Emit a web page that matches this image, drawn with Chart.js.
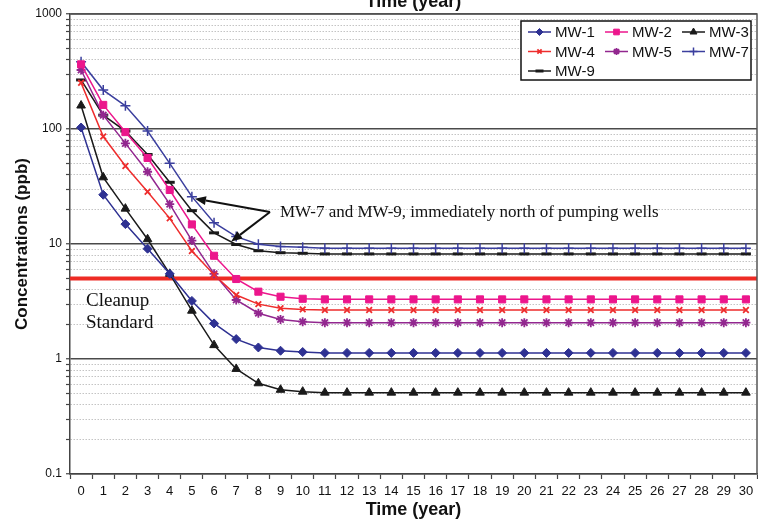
<!DOCTYPE html>
<html>
<head>
<meta charset="utf-8">
<script src="https://cdn.jsdelivr.net/npm/chart.js@4/dist/chart.umd.min.js"></script>
<style>
  body { margin: 0; background: #fff; }
  canvas { display: block; }
</style>
</head>
<body>
<canvas id="chart" width="758" height="529"></canvas>
<script>
// years on the x axis
const years = ['0','1','2','3','4','5','6','7','8','9','10','11','12','13','14','15',
  '16','17','18','19','20','21','22','23','24','25','26','27','28','29','30'];

// concentrations (ppb)
const mw1 = [103, 26.8, 14.9, 9.1, 5.5, 3.2, 2.04, 1.49, 1.26, 1.18, 1.15,
  1.13, 1.13, 1.13, 1.13, 1.13, 1.13, 1.13, 1.13, 1.13, 1.13,
  1.13, 1.13, 1.13, 1.13, 1.13, 1.13, 1.13, 1.13, 1.13, 1.13];
const mw2 = [365, 162, 94, 56, 29.5, 14.8, 7.9, 4.96, 3.85, 3.48, 3.34,
  3.3, 3.3, 3.3, 3.3, 3.3, 3.3, 3.3, 3.3, 3.3, 3.3,
  3.3, 3.3, 3.3, 3.3, 3.3, 3.3, 3.3, 3.3, 3.3, 3.3];
const mw3 = [160, 38, 20.3, 11, 5.5, 2.63, 1.32, 0.82, 0.615, 0.54, 0.52,
  0.51, 0.51, 0.51, 0.51, 0.51, 0.51, 0.51, 0.51, 0.51, 0.51,
  0.51, 0.51, 0.51, 0.51, 0.51, 0.51, 0.51, 0.51, 0.51, 0.51];
const mw4 = [252, 86, 47.7, 28.5, 16.7, 8.7, 5.4, 3.6, 3.0, 2.76, 2.7,
  2.67, 2.67, 2.67, 2.67, 2.67, 2.67, 2.67, 2.67, 2.67, 2.67,
  2.67, 2.67, 2.67, 2.67, 2.67, 2.67, 2.67, 2.67, 2.67, 2.67];
const mw5 = [326, 132, 75, 42.5, 22.2, 10.7, 5.5, 3.26, 2.5, 2.21, 2.11,
  2.07, 2.07, 2.07, 2.07, 2.07, 2.07, 2.07, 2.07, 2.07, 2.07,
  2.07, 2.07, 2.07, 2.07, 2.07, 2.07, 2.07, 2.07, 2.07, 2.07];
const mw7 = [385, 218, 159, 96, 50.3, 25.8, 15.3, 11.6, 9.94, 9.5, 9.36,
  9.2, 9.2, 9.2, 9.2, 9.2, 9.2, 9.2, 9.2, 9.2, 9.2,
  9.2, 9.2, 9.2, 9.2, 9.2, 9.2, 9.2, 9.2, 9.2, 9.2];
const mw9 = [267, 132, 96, 60, 34.4, 19.5, 12.5, 9.9, 8.74, 8.4, 8.3,
  8.2, 8.2, 8.2, 8.2, 8.2, 8.2, 8.2, 8.2, 8.2, 8.2,
  8.2, 8.2, 8.2, 8.2, 8.2, 8.2, 8.2, 8.2, 8.2, 8.2];

const cleanupStandard = 5;
const yMajorTicks = [0.1, 1, 10, 100, 1000];

// log grid: 1..9 in every decade
const yTicks = [];
for (let d = 0; d < yMajorTicks.length; d++) {
  for (let k = 1; k <= 9; k++) {
    const v = +(yMajorTicks[d] * k).toPrecision(3);
    if (v <= 1000) yTicks.push(v);
  }
}

const isMajor = v => yMajorTicks.some(m => Math.abs(m - v) < m * 1e-6);

function series(label, data, color, style, radius, bw) {
  return {
    label: label, data: data,
    borderColor: color, backgroundColor: color,
    pointBackgroundColor: color, pointBorderColor: color,
    borderWidth: 1.5, pointStyle: style, pointRadius: radius,
    pointBorderWidth: bw, tension: 0
  };
}

const overlay = {
  id: 'overlay',
  beforeDatasetsDraw(chart) {
    const { ctx, chartArea: a, scales: { y } } = chart;
    const py = y.getPixelForValue(cleanupStandard);
    ctx.save();
    ctx.strokeStyle = '#ee2b24';
    ctx.lineWidth = 4;
    ctx.beginPath();
    ctx.moveTo(a.left, py);
    ctx.lineTo(a.right, py);
    ctx.stroke();
    ctx.restore();
  },
  afterDatasetsDraw(chart) {
    const { ctx, chartArea: a, scales: { y } } = chart;
    ctx.save();
    // cleanup standard label
    const py = y.getPixelForValue(cleanupStandard);
    ctx.fillStyle = '#111';
    ctx.font = '19px "Liberation Serif", serif';
    ctx.textAlign = 'left';
    ctx.textBaseline = 'alphabetic';
    ctx.fillText('Cleanup', a.left + 16, py + 27);
    ctx.fillText('Standard', a.left + 16, py + 49);

    // arrows to MW-7 (year 5) and MW-9 (year 7)
    const p7 = chart.getDatasetMeta(5).data[5];
    const p9 = chart.getDatasetMeta(6).data[7];
    const sx = 270, sy = 212;
    const tips = [[p7.x + 3, p7.y + 2], [p9.x - 5, p9.y - 3]];
    ctx.strokeStyle = '#111';
    ctx.fillStyle = '#111';
    ctx.lineWidth = 2;
    tips.forEach(([tx, ty]) => {
      const ang = Math.atan2(ty - sy, tx - sx);
      const hl = 11, hw = 4.5;
      const bx = tx - hl * Math.cos(ang), by = ty - hl * Math.sin(ang);
      ctx.beginPath();
      ctx.moveTo(sx, sy);
      ctx.lineTo(bx, by);
      ctx.stroke();
      ctx.beginPath();
      ctx.moveTo(tx, ty);
      ctx.lineTo(bx + hw * Math.sin(ang), by - hw * Math.cos(ang));
      ctx.lineTo(bx - hw * Math.sin(ang), by + hw * Math.cos(ang));
      ctx.closePath();
      ctx.fill();
    });
    ctx.font = '17px "Liberation Serif", serif';
    ctx.fillText('MW-7 and MW-9, immediately north of pumping wells', 280, 217);
    ctx.restore();
  },
  afterDraw(chart) {
    const { ctx, chartArea: a } = chart;
    ctx.save();
    // frame (top and right)
    ctx.strokeStyle = '#555';
    ctx.lineWidth = 1.5;
    ctx.beginPath();
    ctx.moveTo(a.left, a.top);
    ctx.lineTo(a.right, a.top);
    ctx.lineTo(a.right, a.bottom);
    ctx.stroke();

    // clipped title at the very top
    ctx.fillStyle = '#111';
    ctx.font = 'bold 18px "Liberation Sans", Arial, sans-serif';
    ctx.textAlign = 'center';
    ctx.fillText('Time (year)', (a.left + a.right) / 2, 7);

    // legend box
    const lx = 521, ly = 21, lw = 230, lh = 59;
    ctx.fillStyle = '#fff';
    ctx.fillRect(lx, ly, lw, lh);
    ctx.strokeStyle = '#111';
    ctx.lineWidth = 1.5;
    ctx.strokeRect(lx, ly, lw, lh);
    ctx.font = '15px "Liberation Sans", Arial, sans-serif';
    ctx.textAlign = 'left';
    ctx.textBaseline = 'middle';
    chart.data.datasets.forEach((ds, i) => {
      const col = i % 3, row = Math.floor(i / 3);
      const x0 = lx + 7 + col * 77, yy = ly + 11 + row * 19.5;
      ctx.strokeStyle = ds.borderColor;
      ctx.fillStyle = ds.borderColor;
      ctx.lineWidth = 1.5;
      ctx.beginPath();
      ctx.moveTo(x0, yy);
      ctx.lineTo(x0 + 23, yy);
      ctx.stroke();
      ctx.lineWidth = ds.pointBorderWidth;
      Chart.helpers.drawPoint(ctx, {
        pointStyle: ds.pointStyle, radius: Math.max(3, ds.pointRadius - 1),
        borderWidth: ds.pointBorderWidth, rotation: 0
      }, x0 + 11.5, yy);
      ctx.fillStyle = '#111';
      ctx.fillText(ds.label, x0 + 27, yy + 1);
    });
    ctx.restore();
  }
};

new Chart(document.getElementById('chart'), {
  type: 'line',
  data: {
    labels: years,
    datasets: [
      series('MW-1', mw1, '#2e3192', 'rectRot', 4.5, 1),
      series('MW-2', mw2, '#ec168c', 'rect', 5, 1),
      series('MW-3', mw3, '#1a1a1a', 'triangle', 5, 1),
      series('MW-4', mw4, '#ee2d2d', 'crossRot', 4, 1.8),
      series('MW-5', mw5, '#92278f', 'star', 4.5, 1.8),
      series('MW-7', mw7, '#3b3f9e', 'cross', 5, 1.5),
      series('MW-9', mw9, '#1a1a1a', 'line', 5, 3)
    ]
  },
  options: {
    responsive: false,
    animation: false,
    layout: { autoPadding: false, padding: { top: 14, right: 1, left: 0, bottom: 0 } },
    plugins: {
      legend: { display: false },
      tooltip: { enabled: false }
    },
    scales: {
      x: {
        type: 'category',
        offset: true,
        afterFit: s => { s.height = 55; s.paddingLeft = 0; s.paddingRight = 0; },
        grid: { offset: true, drawOnChartArea: false, tickLength: 5, tickColor: '#444', tickWidth: 1.2 },
        border: { color: '#444', width: 1.5 },
        ticks: {
          autoSkip: false, maxRotation: 0, padding: 5, color: '#111',
          font: { family: '"Liberation Sans", Arial, sans-serif', size: 13 }
        },
        title: {
          display: true, text: 'Time (year)', color: '#111',
          font: { family: '"Liberation Sans", Arial, sans-serif', size: 18, weight: 'bold' },
          padding: { top: 0, bottom: 8 }
        }
      },
      y: {
        type: 'logarithmic',
        min: 0.1,
        max: 1000,
        afterFit: s => { s.width = 70; s.paddingTop = 0; s.paddingBottom = 0; },
        afterBuildTicks: s => { s.ticks = yTicks.map(v => ({ value: v })); },
        grid: {
          color: c => isMajor(c.tick.value) ? '#4a4a4a' : '#c4c4c4',
          lineWidth: c => isMajor(c.tick.value) ? 1.5 : 1,
          tickLength: 4, tickColor: '#444', tickWidth: 1.2, tickBorderDash: []
        },
        border: {
          color: '#444', width: 1.5,
          dash: c => (c.tick && isMajor(c.tick.value)) ? [] : [1.5, 1.5]
        },
        ticks: {
          autoSkip: false, padding: 4, color: '#111',
          font: { family: '"Liberation Sans", Arial, sans-serif', size: 12 },
          callback: v => isMajor(v) ? String(v) : ''
        },
        title: {
          display: true, text: 'Concentrations (ppb)', color: '#111',
          font: { family: '"Liberation Sans", Arial, sans-serif', size: 17, weight: 'bold' },
          padding: { top: 12, bottom: 0 }
        }
      }
    }
  },
  plugins: [overlay]
});
</script>
</body>
</html>
